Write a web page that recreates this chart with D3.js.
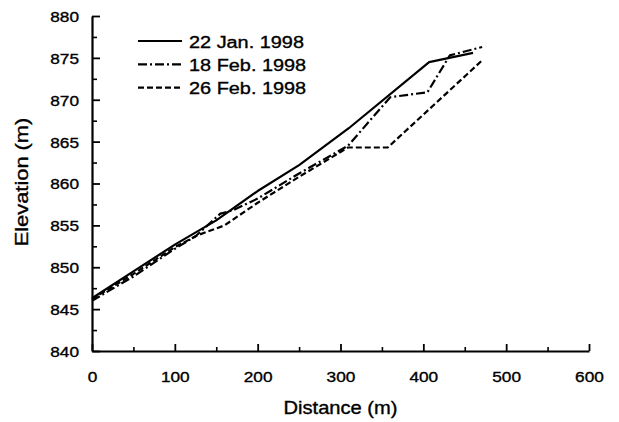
<!DOCTYPE html>
<html><head><meta charset="utf-8">
<script src="https://cdn.jsdelivr.net/npm/d3@7"></script>
<style>
body{margin:0;background:#fff}
text{font-family:"Liberation Sans",Arial,Helvetica,sans-serif;fill:#000;stroke:#000;stroke-width:0.35px}
</style>
</head><body>
<svg id="c" width="619" height="422"></svg>
<script>
const xTicks=[0,100,200,300,400,500,600];
const xMinor=[50,150,250,350,450,550];
const yTicks=[840,845,850,855,860,865,870,875,880];
const yMinor=[842.5,847.5,852.5,857.5,862.5,867.5,872.5,877.5];
const seriesNames=["22 Jan. 1998","18 Feb. 1998","26 Feb. 1998"];
const jan22=[[0,846.3],[50,849.5],[100,852.7],[150,855.6],[200,859.1],[250,862.2],[310,866.6],[407,874.5],[460,875.6]];
const feb18=[[0,846.0],[50,848.9],[100,852.2],[125,853.7],[155,856.4],[170,856.8],[200,858.2],[250,861.2],[309,864.5],[360,870.3],[405,870.9],[432,875.3],[471,876.3]];
const feb26=[[0,846.2],[50,849.2],[100,852.4],[127,853.8],[160,855.0],[200,857.7],[250,860.8],[309,864.3],[357,864.3],[471,874.7]];
const series=[jan22,feb18,feb26];
const dashes=[null,"9,3,2,3","6,3"];

const svg=d3.select("#c");
const x=d3.scaleLinear().domain([0,600]).range([92,589]);
const y=d3.scaleLinear().domain([840,880]).range([351,16]);
const SX=1.15;
const FONT='"Liberation Sans",Arial,sans-serif';

// minor ticks
svg.append("g").attr("transform","translate(0,351)")
  .call(d3.axisBottom(x).tickValues(xMinor).tickSize(-4).tickFormat(""))
  .call(g=>g.select(".domain").remove())
  .selectAll("line").attr("stroke-width",1.6);
svg.append("g").attr("transform","translate(92,0)")
  .call(d3.axisLeft(y).tickValues(yMinor).tickSize(-5).tickFormat(""))
  .call(g=>g.select(".domain").remove())
  .selectAll("line").attr("stroke-width",1.6);

// major axes
const gx=svg.append("g").attr("transform","translate(0,351)")
  .call(d3.axisBottom(x).tickValues(xTicks).tickSize(-7).tickSizeOuter(0).tickFormat(d3.format("d")));
gx.select(".domain").attr("stroke-width",2.2);
gx.selectAll(".tick line").attr("stroke-width",1.8);
gx.selectAll(".tick text").attr("y",0).attr("dy",0).attr("font-size",15)
  .attr("transform",`translate(0,30.5) scale(${SX},1)`);

const gy=svg.append("g").attr("transform","translate(92,0)")
  .call(d3.axisLeft(y).tickValues(yTicks).tickSize(-8).tickSizeOuter(0).tickFormat(d3.format("d")));
gy.select(".domain").attr("stroke-width",2.2);
gy.selectAll(".tick line").attr("stroke-width",1.8);
gy.selectAll(".tick text").attr("x",0).attr("dy","0.36em").attr("font-size",15)
  .attr("transform",`translate(-13,0) scale(${SX},1)`);
svg.selectAll(".tick text").attr("font-family",null).style("font-family",FONT);

// lines
const line=d3.line().x(d=>x(d[0])).y(d=>y(d[1]));
series.forEach((s,i)=>{
  svg.append("path").datum(s).attr("d",line)
    .attr("fill","none").attr("stroke","#000").attr("stroke-width",2.2)
    .attr("stroke-linejoin","round")
    .attr("stroke-dasharray",dashes[i]);
});

// legend
const leg=svg.append("g");
seriesNames.forEach((n,i)=>{
  const ly=41+i*23.3;
  leg.append("line").attr("x1",138).attr("x2",182).attr("y1",ly).attr("y2",ly)
    .attr("stroke","#000").attr("stroke-width",2.2).attr("stroke-dasharray",dashes[i]);
  leg.append("text").attr("transform",`translate(189,${ly+6.5}) scale(${SX},1)`)
    .attr("font-size",17.3).text(n);
});

// axis titles
svg.append("text").attr("transform",`translate(340.5,414) scale(${SX},1)`)
  .attr("text-anchor","middle").attr("font-size",17.5).text("Distance (m)");
svg.append("text").attr("transform",`translate(28,182) rotate(-90) scale(1.15,1)`)
  .attr("text-anchor","middle").attr("font-size",19).text("Elevation (m)");
</script>
</body></html>
